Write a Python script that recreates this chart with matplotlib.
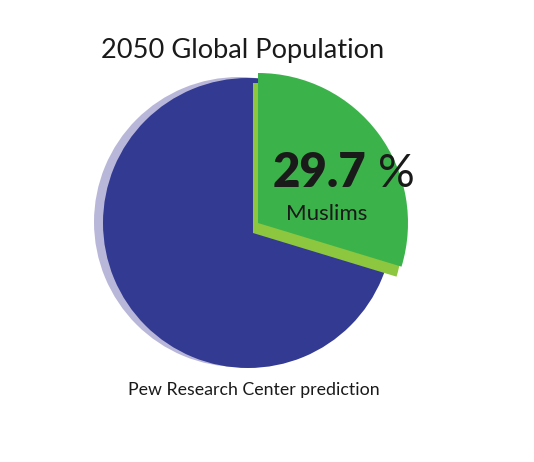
import matplotlib
matplotlib.use("Agg")
import matplotlib.pyplot as plt

# Data
labels = ["Muslims", "Others"]
shares = [29.7, 70.3]
title = "2050 Global Population"
pct_text = "29.7"
source = "Pew Research Center prediction"

BLUE = "#333a92"
LAVENDER = "#b9b7d9"
GREEN = "#3bb34a"
LIGHT_GREEN = "#8dc63f"

W, H = 534, 462
fig = plt.figure(figsize=(W / 100, H / 100), dpi=100)
ax = fig.add_axes([0, 0, 1, 1])

def py(y):
    return H - y

R_BLUE = 145
R_GREEN = 150
blue_c = (248, py(223))
shadow_c = (239, py(222))
green_c = (258, py(223))
gshadow_c = (253, py(233))

# lavender shadow of the whole pie
ax.pie([sum(shares)], colors=[LAVENDER], center=shadow_c, radius=R_BLUE,
       startangle=90, counterclock=False, frame=True)
# blue base (the whole pie)
ax.pie([sum(shares)], colors=[BLUE], center=blue_c, radius=R_BLUE,
       startangle=90, counterclock=False, frame=True)
# green shadow
ax.pie(shares, colors=[LIGHT_GREEN, "none"], center=gshadow_c, radius=R_GREEN,
       startangle=90, counterclock=False, frame=True)
# green wedge (Muslims)
ax.pie(shares, colors=[GREEN, "none"], center=green_c, radius=R_GREEN,
       startangle=90, counterclock=False, frame=True)

ax.set_xlim(0, W)
ax.set_ylim(0, H)
ax.set_aspect("equal")
ax.axis("off")

FONT = ["Lato", "DejaVu Sans"]
ax.text(243, py(58), title, ha="center", va="baseline", fontsize=19.6,
        color="#1a1a1a", family=FONT)
ax.text(273, py(187), pct_text, ha="left", va="baseline", fontsize=34,
        fontweight="heavy", color="#1a1a1a", family=FONT)
ax.text(378, py(187), "%", ha="left", va="baseline", fontsize=33,
        color="#1a1a1a", family=FONT)
ax.text(327, py(220), labels[0], ha="center", va="baseline", fontsize=16,
        color="#1a1a1a", family=FONT)
ax.text(254, py(395), source, ha="center", va="baseline", fontsize=12.8,
        color="#1a1a1a", family=FONT)

fig.savefig("out.png", dpi=100, facecolor="white")
